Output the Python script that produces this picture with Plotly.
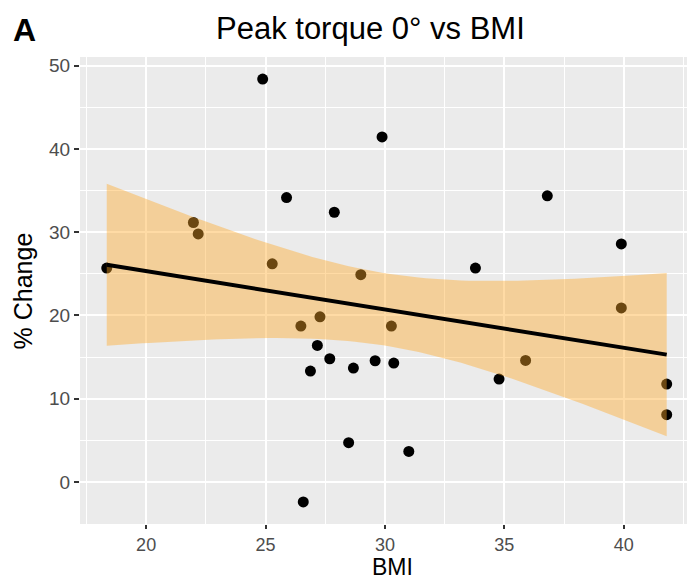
import numpy as np
import plotly.graph_objects as go

# BMI and percent change in peak torque at 0 degrees
bmi = [18.35, 21.98, 22.18, 24.88, 25.28, 25.88, 26.48, 26.58, 26.88, 27.17,
       27.28, 27.69, 27.88, 28.48, 28.68, 28.99, 29.59, 29.88, 30.27, 30.37,
       31.00, 33.79, 34.78, 35.89, 36.80, 39.90, 39.90, 41.80, 41.80]
pct_change = [25.7, 31.17, 29.8, 48.4, 26.2, 34.17, 18.73, -2.4, 13.32, 16.4,
              19.84, 14.8, 32.4, 4.72, 13.68, 24.9, 14.56, 41.45, 18.73, 14.28,
              3.67, 25.7, 12.36, 14.6, 34.37, 28.6, 20.9, 11.76, 8.08]

x_ticks = [20, 25, 30, 35, 40]
y_ticks = [0, 10, 20, 30, 40, 50]

# Linear fit with a 95% confidence band (as geom_smooth(method = "lm"))
x = np.asarray(bmi, dtype=float)
y = np.asarray(pct_change, dtype=float)
n = len(x)
slope, intercept = np.polyfit(x, y, 1)
resid = y - (intercept + slope * x)
s = np.sqrt(np.sum(resid ** 2) / (n - 2))
sxx = np.sum((x - x.mean()) ** 2)
t_crit = 2.0518  # t quantile 0.975 with n - 2 = 27 degrees of freedom
grid = np.linspace(x.min(), x.max(), 80)
fit = intercept + slope * grid
half = t_crit * s * np.sqrt(1 / n + (grid - x.mean()) ** 2 / sxx)
lower, upper = fit - half, fit + half

FONT = "Liberation Sans, Arial, Helvetica, sans-serif"

fig = go.Figure()
fig.add_trace(go.Scatter(
    x=bmi, y=pct_change, mode="markers",
    marker=dict(color="black", size=11, line=dict(width=0)),
    hoverinfo="x+y", showlegend=False))
fig.add_trace(go.Scatter(
    x=np.concatenate([grid, grid[::-1]]),
    y=np.concatenate([upper, lower[::-1]]),
    fill="toself", fillcolor="rgba(255,170,40,0.42)",
    line=dict(width=0), mode="lines", hoverinfo="skip", showlegend=False))
fig.add_trace(go.Scatter(
    x=grid, y=fit, mode="lines",
    line=dict(color="black", width=4), hoverinfo="skip", showlegend=False))

axis_common = dict(
    showgrid=True, gridcolor="white", gridwidth=1.7,
    zeroline=False, showline=False,
    ticks="outside", tickwidth=2, tickcolor="#333333",
    tickfont=dict(family=FONT, size=19, color="#4D4D4D"),
)

fig.update_xaxes(
    range=[17.23, 42.65], tickvals=x_ticks, ticktext=[str(v) for v in x_ticks],
    ticklen=4,
    minor=dict(tick0=2.5, dtick=5, showgrid=True, gridcolor="white",
               gridwidth=0.8, ticks=""),
    **axis_common)
fig.update_yaxes(
    range=[-5.05, 51.05], tickvals=y_ticks, ticktext=[str(v) for v in y_ticks],
    ticklen=5,
    minor=dict(tick0=5, dtick=10, showgrid=True, gridcolor="white",
               gridwidth=0.8, ticks=""),
    **axis_common)
fig.update_xaxes(tickfont=dict(family=FONT, size=18, color="#4D4D4D"))

fig.update_layout(
    width=687, height=582,
    margin=dict(l=80, r=0, t=57, b=58, pad=0),
    paper_bgcolor="white", plot_bgcolor="#EBEBEB",
    font=dict(family=FONT),
    annotations=[
        dict(text="Peak torque 0° vs BMI", xref="paper", yref="paper",
             x=0.4794, y=1.062, xanchor="center", yanchor="middle",
             showarrow=False, font=dict(family=FONT, size=31, color="black")),
        dict(text="<b>A</b>", xref="paper", yref="paper",
             x=-0.1137, y=1.058, xanchor="left", yanchor="middle",
             showarrow=False, font=dict(family=FONT, size=32, color="black")),
        dict(text="BMI", xref="paper", yref="paper",
             x=0.5148, y=-0.0925, xanchor="center", yanchor="middle",
             showarrow=False, font=dict(family=FONT, size=23, color="black")),
        dict(text="% Change", xref="paper", yref="paper",
             x=-0.094, y=0.5, xanchor="center", yanchor="middle", textangle=-90,
             showarrow=False, font=dict(family=FONT, size=25, color="black")),
    ],
)

fig.write_html("out.html")
